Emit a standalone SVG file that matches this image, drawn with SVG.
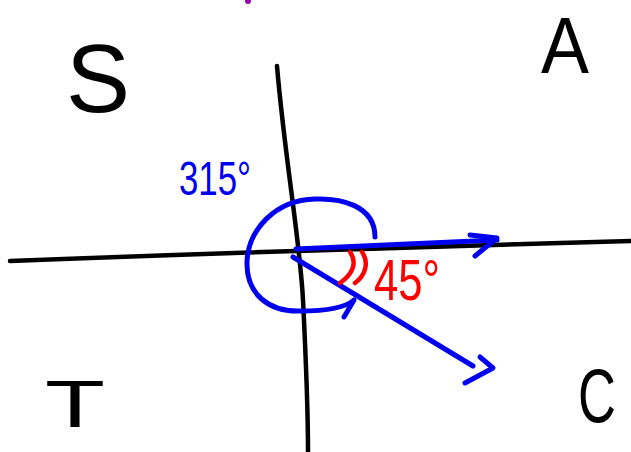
<svg xmlns="http://www.w3.org/2000/svg" width="631" height="452" viewBox="0 0 631 452">
<style>
.k{fill:none;stroke:#000;stroke-width:4.5;stroke-linecap:round;stroke-linejoin:round}
.b{fill:none;stroke:#0000ee;stroke-width:5;stroke-linecap:round;stroke-linejoin:round}
.r{fill:none;stroke:#ff0000;stroke-width:4.5;stroke-linecap:round;stroke-linejoin:round}
.q{font-family:"Liberation Sans",Arial,sans-serif;fill:#000}
.lb{font-family:"Liberation Sans",Arial,sans-serif;fill:#0000ee}
.lr{font-family:"Liberation Sans",Arial,sans-serif;fill:#ff0000}
</style>
<rect width="631" height="452" fill="#fff"/>
<circle cx="248" cy="1" r="3" fill="#9900aa"/>
<g id="axes">
<path class="k" d="M10,261 Q300,250 631,241"/>
<path class="k" d="M277,66 C285,160 300,240 303,300 C306,360 308,410 308,452"/>
</g>
<g id="quadrant-labels">
<text class="q" x="66" y="112" font-size="96" textLength="64" lengthAdjust="spacingAndGlyphs">S</text>
<text class="q" x="541" y="73" font-size="80" textLength="48" lengthAdjust="spacingAndGlyphs">A</text>
<text class="q" x="45" y="427" font-size="66" textLength="60" lengthAdjust="spacingAndGlyphs">T</text>
<text class="q" transform="translate(578,422) scale(0.69,1)" x="0" y="0" font-size="76">C</text>
</g>
<g id="connectors">
<path class="b" d="M296,249 L497,240"/>
<path class="b" d="M470,235 L497,238 L475,256"/>
<path class="b" d="M293,257 L473,366"/>
<path class="b" d="M480,357 L493,368 L465,383"/>
<path class="b" d="M375,237 C375,205 340,198 315,199 C275,200 248,230 247,262 C246,295 270,312 300,311 C325,311 345,308 354,300 L344,317"/>
<path class="r" d="M350,252 C357,262 354,273 340,283"/>
<path class="r" d="M362,252 C369,262 366,275 355,283"/>
</g>
<g id="angle-labels">
<text class="lb" x="179" y="195" font-size="48" textLength="72" lengthAdjust="spacingAndGlyphs">315°</text>
<text class="lr" x="374" y="300" font-size="58" textLength="66" lengthAdjust="spacingAndGlyphs">45°</text>
</g>
</svg>
